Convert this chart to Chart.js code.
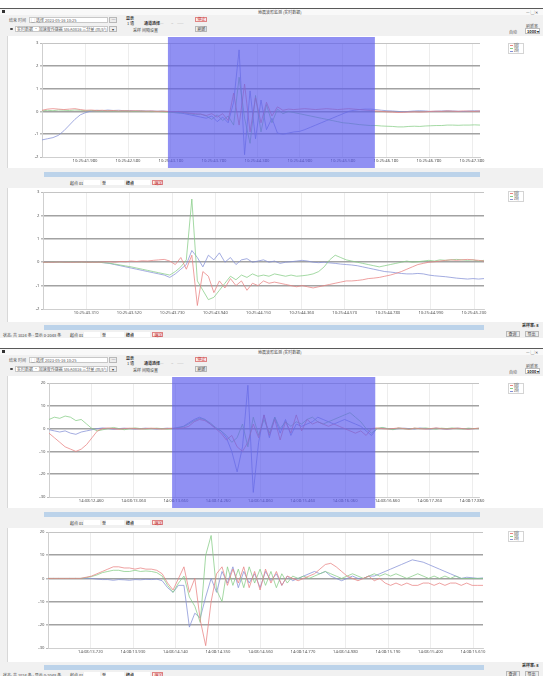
<!DOCTYPE html>
<html><head><meta charset="utf-8">
<script src="https://cdn.jsdelivr.net/npm/chart.js@4.4.0/dist/chart.umd.min.js"></script>
<style>
html,body{margin:0;padding:0;background:#fff;}
#page{position:relative;width:543px;height:676px;overflow:hidden;background:#fff;font-family:'Noto Sans CJK SC','Noto Sans',sans-serif;}
.panel{position:absolute;left:0;width:543px;height:340px;}
.box{position:absolute;box-sizing:border-box;}
.t{position:absolute;font-size:4px;line-height:4px;color:#555;white-space:nowrap;}
canvas{position:absolute;left:0;}
</style></head>
<body><div id="page"></div>
<script>
// ---------------- DATA ----------------
const seriesNames = ['X向', 'Y向', 'Z向'];
const yTicksSmall = [-2, -1, 0, 1, 2, 3];
const yTicksLarge = [-30, -20, -10, 0, 10, 20];

const labelsP1C1 = ['10:25:41.980','10:25:42.580','10:25:43.180','10:25:43.780','10:25:44.380','10:25:44.980','10:25:45.580','10:25:46.180','10:25:46.780','10:25:47.380'];
const labelsP1C2 = ['10:25:43.310','10:25:43.520','10:25:43.730','10:25:43.940','10:25:44.150','10:25:44.360','10:25:44.570','10:25:44.780','10:25:44.990','10:25:45.200'];
const labelsP2C1 = ['14:08:12.460','14:08:13.060','14:08:13.660','14:08:14.260','14:08:14.860','14:08:15.460','14:08:16.060','14:08:16.660','14:08:17.260','14:08:17.860'];
const labelsP2C2 = ['14:08:13.720','14:08:13.930','14:08:14.140','14:08:14.350','14:08:14.560','14:08:14.770','14:08:14.980','14:08:15.190','14:08:15.400','14:08:15.610'];

const selectionP1 = [23.0, 60.8];
const selectionP2 = [22.9, 60.7];

const p1c1Red = [0.05,0.1,0.12,0.1,0.08,0.1,0.12,0.08,0.05,0.06,
 0.04,0.05,0.03,0.04,0.02,0.03,0.02,0.03,0.02,0.01,
 0.02,0.0,0.01,0.0,-0.02,0.0,-0.05,-0.08,-0.1,-0.12,
 -0.18,-0.1,-0.25,-0.1,-0.4,0.8,-0.6,1.2,-0.9,0.6,
 -0.5,0.4,-0.2,0.2,0.05,0.1,0.08,0.1,0.12,0.1,
 0.08,0.1,0.12,0.1,0.08,0.1,0.12,0.1,0.08,0.06,
 0.04,0.02,0.0,-0.02,-0.03,-0.05,-0.04,-0.03,-0.02,-0.03,
 -0.02,0.0,0.01,0.0,0.02,0.01,0.0,0.02,0.01,0.0,0.02];
const p1c1Green = [0.02,0.05,0.03,0.06,0.05,0.04,0.06,0.05,0.03,0.04,
 0.03,0.02,0.03,0.02,0.01,0.02,0.01,0.0,0.01,0.0,
 -0.01,0.0,-0.02,-0.03,-0.05,-0.08,-0.06,-0.1,-0.15,-0.12,
 -0.2,-0.35,-0.15,-0.4,-0.2,-0.6,1.5,-0.3,-1.4,0.7,
 -0.9,0.3,-0.5,0.1,-0.1,0.0,-0.05,-0.1,-0.15,-0.2,
 -0.25,-0.3,-0.35,-0.4,-0.45,-0.5,-0.52,-0.55,-0.58,-0.6,
 -0.62,-0.62,-0.64,-0.65,-0.66,-0.68,-0.68,-0.66,-0.65,-0.66,
 -0.64,-0.63,-0.62,-0.62,-0.6,-0.6,-0.61,-0.6,-0.6,-0.59,-0.6];
const p1c1Blue = [-1.25,-1.2,-1.15,-1.05,-0.85,-0.6,-0.35,-0.15,-0.05,0.02,
 0.05,0.03,0.06,0.04,0.05,0.03,0.04,0.02,0.03,0.02,
 0.02,0.01,0.02,0.0,-0.02,-0.05,-0.1,-0.15,-0.2,-0.25,
 -0.3,-0.2,-0.45,-0.25,-0.5,0.4,2.7,-1.9,0.9,-1.2,
 0.5,-0.8,-0.3,-0.95,-1.0,-0.95,-0.9,-0.88,-0.8,-0.7,
 -0.6,-0.5,-0.4,-0.3,-0.2,-0.1,0.0,0.05,0.08,0.1,
 0.1,0.08,0.05,0.03,0.02,0.0,-0.02,0.0,0.02,0.03,
 0.02,0.0,0.01,0.02,0.03,0.02,0.01,0.0,0.02,0.03,0.02];

const p1c2Red = [0,0,0,0.01,0,0,0,0.01,0,0,
 0,0.01,0.02,0.0,0.03,0.02,0.05,0.03,0.06,0.05,
 0.08,0.1,0.12,0.05,-0.1,0.2,-0.3,0.3,-1.85,-0.4,
 -0.6,-1.3,-0.8,-1.1,-0.7,-1.0,-0.8,-1.2,-0.9,-1.0,
 -0.8,-0.9,-0.85,-0.9,-0.95,-1.0,-1.05,-1.0,-1.05,-1.1,
 -1.05,-1.0,-0.95,-0.9,-0.85,-0.8,-0.8,-0.78,-0.75,-0.7,
 -0.68,-0.65,-0.6,-0.55,-0.48,-0.4,-0.3,-0.2,-0.1,-0.05,
 0.0,0.02,0.05,0.08,0.1,0.08,0.1,0.12,0.1,0.08,0.05];
const p1c2Green = [0,0,0.01,0,0,0.01,0,0,0,0,
 0,-0.02,-0.04,-0.08,-0.12,-0.16,-0.2,-0.25,-0.3,-0.35,
 -0.4,-0.45,-0.5,-0.55,-0.4,-0.2,0.1,2.7,-0.8,-1.2,
 -1.6,-1.5,-1.2,-0.9,-0.6,-0.75,-0.55,-0.65,-0.5,-0.6,
 -0.55,-0.6,-0.5,-0.55,-0.6,-0.55,-0.6,-0.58,-0.55,-0.5,
 -0.4,-0.2,0.1,0.3,0.2,0.1,0.05,0.0,-0.05,-0.1,
 -0.15,-0.2,-0.15,-0.1,-0.05,0.0,0.05,0.0,0.02,0.05,
 0.08,0.05,0.1,0.08,0.1,0.12,0.1,0.08,0.1,0.05,0.08];
const p1c2Blue = [0,0.01,0,0.01,0,0,0.01,0,0,0,
 0,-0.02,-0.05,-0.1,-0.15,-0.2,-0.25,-0.3,-0.35,-0.4,
 -0.45,-0.5,-0.55,-0.65,-0.5,-0.3,-0.1,0.5,0.2,-0.2,
 0.3,0.1,0.4,0.0,0.2,-0.1,0.1,0.15,0.0,0.05,
 0.1,0.0,0.05,-0.05,0.0,0.02,0.05,0.08,0.05,0.0,
 -0.02,0.0,-0.03,-0.05,-0.08,-0.1,-0.12,-0.15,-0.2,-0.25,
 -0.3,-0.35,-0.4,-0.42,-0.45,-0.48,-0.5,-0.5,-0.48,-0.5,
 -0.55,-0.58,-0.6,-0.62,-0.65,-0.68,-0.7,-0.72,-0.7,-0.72,-0.7];

const p2c1Red = [-2,-4,-6,-8,-9,-10,-9,-7,-4,-1,
 0,0.3,0,-0.3,0,0.2,0,-0.2,0,0.2,
 0,-0.2,0,0.2,0,0.3,1,3,4,3.5,
 2,0,-2,-5,-3,-8,-10,-6,2,-4,
 6,-3,4,-5,3,-2,6,-1,4,2,
 3,2,1,2,1,0,-1,-2,-1,-3,
 0,0.3,0,-0.2,0,0.3,0,-0.3,0.2,0,
 -0.2,0,0.3,0,-0.2,0,0.2,0,-0.3,0,0.2];
const p2c1Green = [4,5,4.5,5.5,5,3.5,4,2,0,-1,
 -0.5,0,0.5,0,-0.5,0,0.3,0,-0.2,0,
 0.2,0,-0.2,0,0.3,0.8,2,3.5,4.5,4,
 2.5,0.5,-1,-3,-6,-4,2,-8,5,-3,
 4,-2,5,0,3,1,3,2,4,5,
 3,2,3,4,5,6,7,5,3,0,
 -2,0,0.5,0,-0.5,0.3,0,-0.3,0.2,0,
 0.3,0,-0.2,0.2,0,0.3,0,-0.2,0.2,0,0.1];
const p2c1Blue = [-0.5,-1,-1.5,-1,-2,-2.5,-1.5,-1,-0.5,0,
 0.3,0,-0.3,0,0.2,0,-0.2,0,0.2,0,
 -0.2,0,0.2,0,0.5,1,2.5,4,5,4,
 2,0.2,-1,-4,-10,-19,-8,19,-28,-6,
 6,-4,5,-2,4,-3,2,1,2,3,
 5,4,3,2,3,4,3,2,1,-1,
 -3,0,0.3,0,-0.3,0,0.2,0,-0.2,0.3,
 0,-0.2,0.2,0,-0.3,0,0.2,0,-0.2,0,0.1];

const p2c2Red = [0,0,0,0,0,0,0,0.5,1,2,
 3,4,5,5,4.5,4.5,4,4.5,4,4,
 3.5,2,-2,-5,0,5,-6,0,-18,-29,
 -10,2,5,-3,4,-2,5,-4,3,-5,
 4,-2,3,-3,1,0,-1,0,1,2,
 4,6,6.5,5,3,1,0,-1,0,1,
 -1,0,-2,-3,-2,-3,-2,-3,-3,-2,
 -2,-3,-2,-3,-2,-2,-3,-2,-3,-3,-3];
const p2c2Green = [0,0,0,0,0,0,0,0.3,0.8,1.5,
 2.5,3,3.5,3.5,3,3,3.5,3,3.2,3,
 2.5,1,-3,-6,-2,1,-8,-12,-19,10,
 18.5,-5,-10,5,-3,4,-4,5,-2,4,
 -3,3,-4,2,-2,1,0,1,0,1,
 2,3,2,1,0,1,2,1,0,1,
 2,1,2,1,2,1,0,1,2,1,
 0,1,0,1,0,1,0,0,0,0,0];
const p2c2Blue = [0,0,0,0,0,0,0,0,0,-0.3,
 -0.5,-0.5,-0.8,-0.5,-0.6,-0.8,-0.5,-0.6,-0.4,-0.5,
 -0.3,-1,-4,-6,-3,-3,-21,-15,-17,-8,
 0,-6,3,-2,5,-4,3,-2,2,-4,
 3,-1,2,-3,1,-1,0,1,2,3,
 2,3,1,0,-1,0,1,0,0,1,
 1,2,3,4,5,6,7,8,7.5,7,
 6,5,4,3,2,1,0,0.5,0.3,0,0.2];

// ---------------- STYLE / LAYOUT ----------------
const seriesColors = ['#e88282', '#86cc86', '#8490d6'];
const page = document.getElementById('page');

const selPlugin = {
  id: 'selBox',
  afterDatasetsDraw(chart, args, opts) {
    if (!opts || !opts.range) return;
    const xs = chart.scales.x;
    const x0 = xs.getPixelForValue(opts.range[0]);
    const x1 = xs.getPixelForValue(opts.range[1]);
    const c = chart.ctx;
    c.save();
    c.fillStyle = 'rgba(92,92,238,0.68)';
    c.fillRect(x0, 1, x1 - x0, chart.height - 1);
    c.restore();
  }
};

function el(parent, css, text, cls) {
  const d = document.createElement('div');
  d.className = cls || 't';
  d.style.cssText = css;
  if (text != null) d.textContent = text;
  parent.appendChild(d);
  return d;
}
function button(p, x, y, w, txt, red) {
  el(p, `left:${x}px;top:${y}px;width:${w}px;height:5.5px;background:${red ? '#fde9e9' : '#ececec'};border:0.6px solid ${red ? '#e08585' : '#b8b8b8'};`, null, 'box');
  el(p, `left:${x + 2.5}px;top:${y + 0.8}px;color:${red ? '#c03030' : '#333'};`, txt);
}
function controlsRow(p, y) {
  el(p, `left:70px;top:${y + 0.5}px;color:#333;`, '起点 01');
  el(p, `left:84px;top:${y}px;width:16px;height:5px;background:#fff;`, null, 'box');
  el(p, `left:102px;top:${y + 0.5}px;color:#333;`, '至');
  el(p, `left:106px;top:${y}px;width:18px;height:5px;background:#fff;`, null, 'box');
  el(p, `left:126px;top:${y + 0.5}px;color:#333;font-weight:bold;`, '终点');
  el(p, `left:134px;top:${y}px;width:16px;height:5px;background:#fff;`, null, 'box');
  button(p, 152, y - 0.3, 11, '确定', true);
}
function legend(p, y) {
  el(p, `left:508px;top:${y}px;width:16px;height:11px;background:#fff;border:0.5px solid #d4d4d4;`, null, 'box');
  seriesNames.forEach((n, i) => {
    el(p, `left:510px;top:${y + 2.2 + i * 3}px;width:3px;height:0.8px;background:${seriesColors[i]};`, null, 'box');
    el(p, `left:514px;top:${y + 1 + i * 3}px;font-size:3px;line-height:3px;color:#444;`, n);
  });
}

function makeChart(p, spec) {
  const cv = document.createElement('canvas');
  cv.width = 500; cv.height = spec.ch;
  cv.style.top = spec.ct + 'px';
  cv.style.width = '500px'; cv.style.height = spec.ch + 'px';
  p.appendChild(cv);
  const xMax = spec.series[0].length - 1;
  const tickGap = xMax * spec.tickPx / (spec.right - spec.left);
  const tickLabels = [''].concat(spec.labels);
  const yt = spec.yTicks;
  new Chart(cv, {
    type: 'line',
    data: {
      datasets: spec.series.map((arr, si) => ({
        label: seriesNames[si],
        data: arr.map((v, i) => ({ x: i, y: v })),
        borderColor: seriesColors[si],
        borderWidth: 0.75,
        pointRadius: 0,
        tension: 0,
        fill: false
      }))
    },
    options: {
      responsive: false, animation: false, devicePixelRatio: 1,
      layout: { padding: { top: spec.top - spec.ct, right: 500 - spec.right, left: 0, bottom: 0 } },
      plugins: { legend: { display: false }, tooltip: { enabled: false }, selBox: spec.sel ? { range: spec.sel } : false },
      scales: {
        x: {
          type: 'linear', min: 0, max: xMax,
          afterBuildTicks: s => { s.ticks = tickLabels.map((_, k) => ({ value: k * tickGap })); },
          afterFit: s => { s.height = spec.ct + spec.ch - spec.bottom; },
          ticks: { autoSkip: false, maxRotation: 0, minRotation: 0, font: { size: 4.2, family: 'Noto Sans' }, color: '#555', padding: 1.5,
                   callback: (v, i) => tickLabels[i] },
          grid: { color: '#e9e9e9', lineWidth: 0.8, drawTicks: false },
          border: { color: '#cfcfcf', width: 1 }
        },
        y: {
          min: yt[0], max: yt[yt.length - 1],
          ticks: { stepSize: yt[1] - yt[0], font: { size: 4.2, family: 'Noto Sans' }, color: '#555', padding: 1.5 },
          afterFit: s => { s.width = spec.left; },
          grid: {
            color: ctx => (ctx.tick && (ctx.tick.value === yt[yt.length - 1] || ctx.tick.value === yt[0])) ? '#c4c4c4' : '#a2a2a2',
            lineWidth: ctx => (ctx.tick && (ctx.tick.value === yt[yt.length - 1] || ctx.tick.value === yt[0])) ? 1 : 1.6,
            tickLength: 2, tickColor: '#bbb'
          },
          border: { color: '#cfcfcf', width: 1 }
        }
      }
    },
    plugins: [selPlugin]
  });
}

function buildPanel(T, charts) {
  const p = document.createElement('div');
  p.className = 'panel';
  p.style.top = T + 'px';
  page.appendChild(p);
  el(p, 'left:0;top:8px;width:543px;height:330px;background:#f1f1f1;border-top:1px solid #5a5a5a;', null, 'box');
  el(p, 'left:0;top:9px;width:543px;height:6px;background:#f9f9f9;', null, 'box');
  el(p, 'left:2px;top:9.5px;width:3px;height:3px;background:#333;', null, 'box');
  el(p, 'left:258px;top:10px;color:#444;', '地震波形监测 (实时数据)');
  el(p, 'left:526px;top:10px;color:#444;', '—  ▢  ✕');
  // toolbar row 1
  el(p, 'left:9px;top:18px;', '结束 时间');
  el(p, 'left:29px;top:17px;width:79px;height:5.5px;background:#fff;border:0.5px solid #c8c8c8;', null, 'box');
  el(p, 'left:31px;top:18px;', '▢ 选择');
  el(p, 'left:45px;top:18px;', '2023-05-16 10:25');
  button(p, 109, 17, 8, '…');
  el(p, 'left:126px;top:15.5px;font-weight:bold;color:#222;', '显示');
  el(p, 'left:127px;top:20.5px;color:#333;', '1 通');
  el(p, 'left:144px;top:21px;font-weight:bold;color:#333;', '通道选择');
  el(p, 'left:157px;top:21px;color:#aaa;', '——');
  el(p, 'left:171px;top:21px;color:#aaa;', '~');
  el(p, 'left:177px;top:21px;color:#aaa;', '——');
  button(p, 195, 16.5, 12, '停止', true);
  // toolbar row 2
  el(p, 'left:10px;top:27.5px;width:2.6px;height:2.6px;border-radius:50%;background:#444;', null, 'box');
  el(p, 'left:15px;top:26px;width:93px;height:5.5px;background:#fff;border:0.5px solid #c8c8c8;', null, 'box');
  el(p, 'left:17px;top:27px;', '实时数据 · 加速度传感器 SN:A0816 三分量 (m/s²)');
  button(p, 109, 26, 8, '▾');
  el(p, 'left:133px;top:27.5px;color:#444;', '采样 间隔设置');
  button(p, 195, 26, 12, '刷新');
  // top right
  el(p, 'left:509px;top:29.5px;', '自动');
  el(p, 'left:526px;top:23.5px;', '刷新率');
  el(p, 'left:525px;top:28px;width:15px;height:5.5px;background:#fff;border:0.5px solid #bbb;', null, 'box');
  el(p, 'left:527px;top:28.8px;font-weight:bold;color:#222;', '1000 ▾');
  // white chart areas
  el(p, 'left:7px;top:36px;width:536px;height:132px;background:#fff;border-left:0.5px solid #d8d8d8;', null, 'box');
  el(p, 'left:7px;top:188px;width:536px;height:134px;background:#fff;border-left:0.5px solid #d8d8d8;', null, 'box');
  // sliders
  el(p, 'left:44px;top:172px;width:436px;height:5px;background:#bcd3ea;', null, 'box');
  el(p, 'left:44px;top:324.5px;width:440px;height:5px;background:#bcd3ea;', null, 'box');
  controlsRow(p, 180);
  controlsRow(p, 332);
  el(p, 'left:3px;top:332.5px;color:#444;', '状态: 共 1024 条 - 显示 0-2048 条');
  el(p, 'left:522px;top:322.5px;font-weight:bold;color:#333;', '采样率: 8');
  button(p, 506, 331, 14, '查询');
  button(p, 525, 331, 14, '导出');
  legend(p, 43);
  legend(p, 191);
  charts.forEach(c => makeChart(p, c));
}

buildPanel(0, [
  { ct: 36, ch: 132, left: 42, right: 480, top: 43, bottom: 157, tickPx: 43, yTicks: yTicksSmall, labels: labelsP1C1, series: [p1c1Red, p1c1Green, p1c1Blue], sel: selectionP1 },
  { ct: 188, ch: 134, left: 43, right: 484, top: 192, bottom: 309, tickPx: 43.1, yTicks: yTicksSmall, labels: labelsP1C2, series: [p1c2Red, p1c2Green, p1c2Blue] }
]);
buildPanel(340, [
  { ct: 36, ch: 132, left: 49, right: 479, top: 43, bottom: 157, tickPx: 42.3, yTicks: yTicksLarge, labels: labelsP2C1, series: [p2c1Red, p2c1Green, p2c1Blue], sel: selectionP2 },
  { ct: 188, ch: 134, left: 48, right: 483, top: 192, bottom: 308, tickPx: 42.5, yTicks: yTicksLarge, labels: labelsP2C2, series: [p2c2Red, p2c2Green, p2c2Blue] }
]);
</script>
</body></html>
